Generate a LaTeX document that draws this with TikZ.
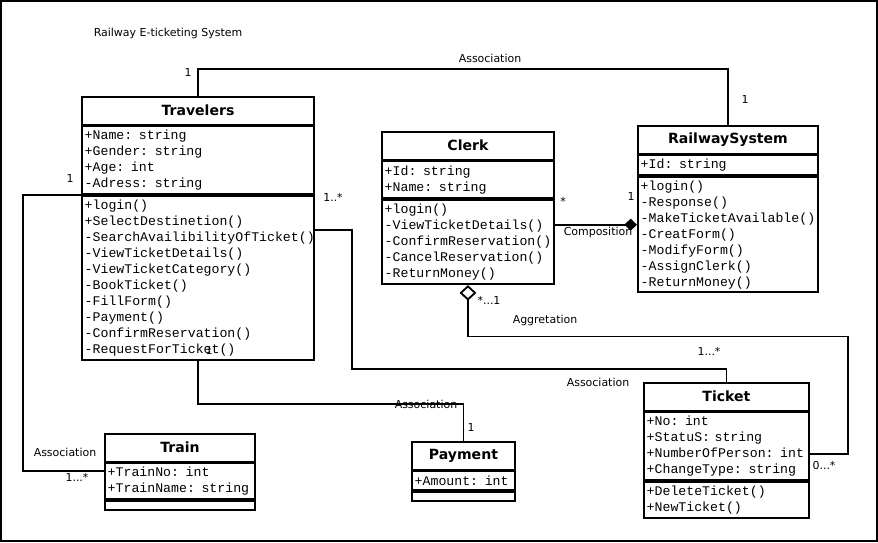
\documentclass[tikz,border=0pt]{standalone}
\usepackage{fontspec}
\setmainfont{DejaVu Sans}
\setmonofont{Liberation Mono}
\usetikzlibrary{arrows.meta}

\tikzset{
	classname/.style={draw, line width=1.3pt, anchor=north west, inner sep=0pt, minimum height=0.69cm, font=\bfseries\fontsize{10}{12}\selectfont},
	members/.style={draw, line width=1.3pt, anchor=north west, inner xsep=0.07cm, inner ysep=0pt, align=left, font=\ttfamily\fontsize{9.4}{11.38}\selectfont},
	link/.style={line width=1.3pt},
	lbl/.style={inner sep=0pt, font=\fontsize{7.8}{9}\selectfont},
}

\begin{document}
\begin{tikzpicture}[x=0.025cm, y=-0.025cm]
		\useasboundingbox (0,0) rectangle (878,542);
		\draw[line width=1.6pt] (1,1) rectangle (877,541);
		\node[lbl] (heading) at (168,33) {Railway E-ticketing System};

		\node[classname, minimum width=5.8cm] (trav) at (81,96) {Travelers};
		\node[members, text width=5.66cm, minimum height=1.7cm] (trav-attr) at (trav.south west) {+Name: string\\+Gender: string\\+Age: int\\-Adress: string};
		\node[members, text width=5.66cm, minimum height=4.1cm] (trav-ops) at (trav-attr.south west) {+login()\\+SelectDestinetion()\\-SearchAvailibilityOfTicket()\\-ViewTicketDetails()\\-ViewTicketCategory()\\-BookTicket()\\-FillForm()\\-Payment()\\-ConfirmReservation()\\-RequestForTicket()};

		\node[classname, minimum width=4.3cm] (clerk) at (381,131) {Clerk};
		\node[members, text width=4.16cm, minimum height=0.925cm] (clerk-attr) at (clerk.south west) {+Id: string\\+Name: string};
		\node[members, text width=4.16cm, minimum height=2.1cm] (clerk-ops) at (clerk-attr.south west) {+login()\\-ViewTicketDetails()\\-ConfirmReservation()\\-CancelReservation()\\-ReturnMoney()};

		\node[classname, minimum width=4.5cm] (rs) at (637,125) {RailwaySystem};
		\node[members, text width=4.36cm, minimum height=0.5cm] (rs-attr) at (rs.south west) {+Id: string};
		\node[members, text width=4.36cm, minimum height=2.875cm] (rs-ops) at (rs-attr.south west) {+login()\\-Response()\\-MakeTicketAvailable()\\-CreatForm()\\-ModifyForm()\\-AssignClerk()\\-ReturnMoney()};

		\node[classname, minimum width=4.125cm] (tick) at (643,382) {Ticket};
		\node[members, text width=3.985cm, minimum height=1.7cm] (tick-attr) at (tick.south west) {+No: int\\+StatuS: string\\+NumberOfPerson: int\\+ChangeType: string};
		\node[members, text width=3.985cm, minimum height=0.9cm] (tick-ops) at (tick-attr.south west) {+DeleteTicket()\\+NewTicket()};

		\node[classname, minimum width=3.75cm] (train) at (104,433) {Train};
		\node[members, text width=3.61cm, minimum height=0.9cm] (train-attr) at (train.south west) {+TrainNo: int\\+TrainName: string};
		\node[members, text width=3.61cm, minimum height=0.225cm] (train-ops) at (train-attr.south west) {};

		\node[classname, minimum width=2.575cm] (pay) at (411,441) {Payment};
		\node[members, text width=2.435cm, minimum height=0.475cm] (pay-attr) at (pay.south west) {+Amount: int};
		\node[members, text width=2.435cm, minimum height=0.225cm] (pay-ops) at (pay-attr.south west) {};

		\draw[link] (trav.north) -- ++(0,-27) -| (rs.north);
		\draw[link] (trav-attr.south west) -- ++(-58,0) |- ([yshift=-0.21cm]train-attr.north west);
		\draw[link] ([yshift=-0.86cm]trav-ops.north east) -- ++(37,0) |- ([yshift=0.325cm]tick.north) -- (tick.north);
		\draw[link] (trav-ops.south) -- ++(0,43) -| (pay.north);
		\coordinate (compo) at ([yshift=-0.635cm]clerk-ops.north east);
		\draw[link, -{Diamond[length=9pt, width=8.5pt]}] (compo) -- (compo -| rs-ops.west);
		\draw[link, -{Diamond[open, length=11pt, width=12pt]}] ([yshift=-1.06cm]tick-attr.north east) -- ++(38,0) |- ([yshift=-1.285cm]clerk-ops.south) -- (clerk-ops.south);

		\node[lbl] (m-trav-rs) at (188,72) {1};
		\node[lbl] (a-trav-rs) at (490,58) {Association};
		\node[lbl] (m-rs-trav) at (745,99) {1};
		\node[lbl] (m-trav-train) at (70,178) {1};
		\node[lbl] (a-trav-train) at (65,452) {Association};
		\node[lbl] (m-train-trav) at (77,477) {1...*};
		\node[lbl] (m-trav-tick) at (333,197) {1..*};
		\node[lbl] (a-trav-tick) at (598,382) {Association};
		\node[lbl] (m-trav-pay) at (209,350) {1};
		\node[lbl] (a-trav-pay) at (426,404) {Association};
		\node[lbl] (m-pay-trav) at (471,427) {1};
		\node[lbl] (m-clerk-rs) at (563,201) {*};
		\node[lbl] (m-rs-clerk) at (631,196) {1};
		\node[lbl] (a-clerk-rs) at (598,232) {Composition};
		\node[lbl] (m-clerk-tick) at (489,300) {*...1};
		\node[lbl] (a-clerk-tick) at (545,320) {Aggretation};
		\node[lbl] (m-tick-clerk) at (709,351) {1...*};
		\node[lbl] (m-tick-clerk2) at (824,465) {0...*};
	\end{tikzpicture}
\end{document}
